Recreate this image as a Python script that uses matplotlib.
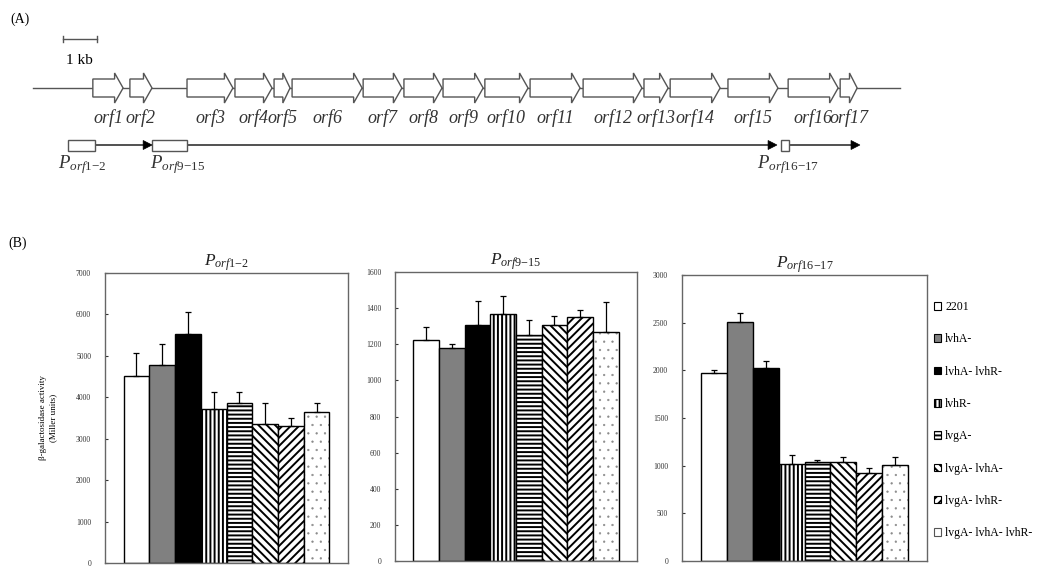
import numpy as np
import matplotlib.pyplot as plt
from matplotlib.patches import Polygon, Rectangle

plt.rcParams['font.family'] = ['Liberation Serif', 'DejaVu Serif']
plt.rcParams['mathtext.fontset'] = 'custom'
plt.rcParams['mathtext.rm'] = 'Liberation Serif'
plt.rcParams['mathtext.it'] = 'Liberation Serif:italic'
plt.rcParams['hatch.linewidth'] = 1.4

# ---- gene cluster (positions in kb) ----
gene_names = ['orf1', 'orf2', 'orf3', 'orf4', 'orf5', 'orf6', 'orf7', 'orf8', 'orf9',
              'orf10', 'orf11', 'orf12', 'orf13', 'orf14', 'orf15', 'orf16', 'orf17']
gene_start = [1.76, 2.85, 4.53, 5.94, 7.09, 7.62, 9.71, 10.91, 12.06,
              13.29, 14.62, 16.18, 17.97, 18.74, 20.44, 22.21, 23.74]
gene_end = [2.65, 3.50, 5.88, 7.03, 7.56, 9.68, 10.85, 12.03, 13.24,
            14.56, 16.09, 17.91, 18.68, 20.21, 21.91, 23.68, 24.24]
locus_kb = 25.5

promoter_names = ['orf1{-}2', 'orf9{-}15', 'orf16{-}17']
promoter_start = [1.03, 3.50, 22.00]
promoter_end = [1.82, 4.53, 22.24]
transcript_end = [3.50, 21.88, 24.32]

# ---- beta-galactosidase activity (Miller units) ----
strains = ['2201', 'lvhA-', 'lvhA- lvhR-', 'lvhR-', 'lvgA-',
           'lvgA- lvhA-', 'lvgA- lvhR-', 'lvgA- lvhA- lvhR-']
act_orf12 = [4510, 4770, 5520, 3710, 3870, 3350, 3310, 3650]
err_orf12 = [570, 505, 535, 420, 260, 520, 180, 205]
act_orf915 = [1221, 1177, 1308, 1367, 1250, 1305, 1351, 1268]
err_orf915 = [73, 27, 130, 99, 86, 49, 41, 165]
act_orf1617 = [1975, 2508, 2028, 1018, 1035, 1038, 924, 1007]
err_orf1617 = [25, 89, 70, 94, 25, 50, 52, 81]

bar_face = ['white', '#808080', 'black', 'white', 'white', 'white', 'white', 'white']
bar_hatch = [None, None, None, '||||', '----', '\\\\\\\\', '////', '..']
dot_color = '#8a8a8a'
frame_color = '#666666'


def thin_hatch(patch, lw):
    # per-patch hatch width where the installed matplotlib supports it
    if hasattr(patch, 'set_hatch_linewidth'):
        patch.set_hatch_linewidth(lw)


fig = plt.figure(figsize=(10.61, 5.70), dpi=100)

# ---- (A) gene map, x in kb, y in pixel rows ----
px_per_kb = 34.0
x0_px = 33.0
axm = fig.add_axes([0, 0, 1, 1])
axm.set_xlim(-x0_px / px_per_kb, (1061 - x0_px) / px_per_kb)
axm.set_ylim(570, 0)
axm.axis('off')

axm.text(10 / px_per_kb - x0_px / px_per_kb, 19, '(A)', fontsize=10, va='center')
axm.text(8 / px_per_kb - x0_px / px_per_kb, 243, '(B)', fontsize=10, va='center')

# scale bar
sb_x = 0.88
axm.plot([sb_x, sb_x + 1], [39, 39], color='#555555', lw=1)
axm.plot([sb_x, sb_x], [36, 42], color='#555555', lw=1)
axm.plot([sb_x + 1, sb_x + 1], [36, 42], color='#555555', lw=1)
axm.text(sb_x + 0.5, 60, '1 kb', fontsize=11, ha='center', va='center')

gy = 88
axm.plot([0, locus_kb], [gy, gy], color='#555555', lw=1, zorder=1)
for name, s, e in zip(gene_names, gene_start, gene_end):
    hl = min(0.25, 0.45 * (e - s))
    hb, hh = 9, 15
    pts = [(s, gy - hb), (e - hl, gy - hb), (e - hl, gy - hh), (e, gy),
           (e - hl, gy + hh), (e - hl, gy + hb), (s, gy + hb)]
    axm.add_patch(Polygon(pts, closed=True, facecolor='white',
                          edgecolor='#555555', lw=1, zorder=2))
    axm.text((s + e) / 2, 118, name, fontsize=13, style='italic',
             ha='center', va='center', color='#333333')

# promoters and transcripts
py = 145
for name, s, e, t in zip(promoter_names, promoter_start, promoter_end, transcript_end):
    axm.add_patch(Rectangle((s, py - 5.5), e - s, 11, facecolor='white',
                            edgecolor='#555555', lw=1, zorder=3))
    axm.plot([e, t - 0.2], [py, py], color='#333333', lw=1.2, zorder=2)
    axm.add_patch(Polygon([(t - 0.26, py - 4.5), (t, py), (t - 0.26, py + 4.5)],
                          closed=True, facecolor='black', edgecolor='black', lw=0.5, zorder=4))
label_x = [0.74, 3.44, 21.3]
for name, lx in zip(promoter_names, label_x):
    axm.text(lx, 165, r'$P_{%s}$' % name, fontsize=13.5, ha='left', va='center',
             color='#333333')

# ---- (B) bar panels ----
panels = [
    ([105, 348, 273, 563], act_orf12, err_orf12, 7000, 1000, 'orf1{-}2'),
    ([395, 637, 272, 561], act_orf915, err_orf915, 1600, 200, 'orf9{-}15'),
    ([682, 927, 275, 561], act_orf1617, err_orf1617, 3000, 500, 'orf16{-}17'),
]
x = np.arange(len(strains))
axes = []
for (l, r, t, b), vals, errs, ymax, step, title in panels:
    ax = fig.add_axes([l / 1061, (570 - b) / 570, (r - l) / 1061, (b - t) / 570])
    axes.append(ax)
    for i in range(len(strains)):
        if bar_hatch[i] == '..':
            dots = ax.bar(x[i], vals[i], width=1.0, color='white', edgecolor=dot_color,
                          hatch='..', lw=0, zorder=2)
            thin_hatch(dots[0], 0.4)
            ax.bar(x[i], vals[i], width=1.0, fill=False, edgecolor='black', lw=1, zorder=3)
        else:
            ax.bar(x[i], vals[i], width=1.0, color=bar_face[i], edgecolor='black',
                   hatch=bar_hatch[i], lw=1, zorder=2)
    ax.errorbar(x, vals, yerr=[np.zeros(len(errs)), errs], fmt='none', ecolor='black',
                elinewidth=0.9, capsize=2.2, capthick=0.9, zorder=4)
    ax.set_xlim(-0.5 - 0.72, len(strains) - 0.5 + 0.72)
    ax.set_ylim(0, ymax)
    ax.set_yticks(np.arange(0, ymax + 1, step))
    ax.set_xticks([])
    ax.tick_params(axis='y', direction='in', length=2.5, width=0.8, pad=10,
                   labelsize=5.5, colors='#333333')
    for sp in ax.spines.values():
        sp.set_color(frame_color)
        sp.set_linewidth(1)
    ax.set_title(r'$P_{%s}$' % title, fontsize=12.5, pad=5, color='#222222')

axes[0].set_ylabel('β-galactosidase activity\n(Miller units)', fontsize=6.5, linespacing=1.3)
axes[0].yaxis.set_label_coords(-0.198, 0.5)

# legend with small square keys
handles = []
for i in range(len(strains)):
    if bar_hatch[i] == '..':
        handles.append(Rectangle((0, 0), 1, 1, facecolor='white', edgecolor='#555555', lw=0.8))
    else:
        handles.append(Rectangle((0, 0), 1, 1, facecolor=bar_face[i], edgecolor='black',
                                 hatch=bar_hatch[i], lw=0.8))
axes[2].legend(handles, strains, loc='upper left', bbox_to_anchor=(934 / 1061, 1 - 301 / 570),
               bbox_transform=fig.transFigure, frameon=False, fontsize=8.5,
               handlelength=0.6, handleheight=0.6, handletextpad=0.35,
               labelspacing=1.72, borderaxespad=0, borderpad=0)

fig.savefig('out.png', dpi=100)
